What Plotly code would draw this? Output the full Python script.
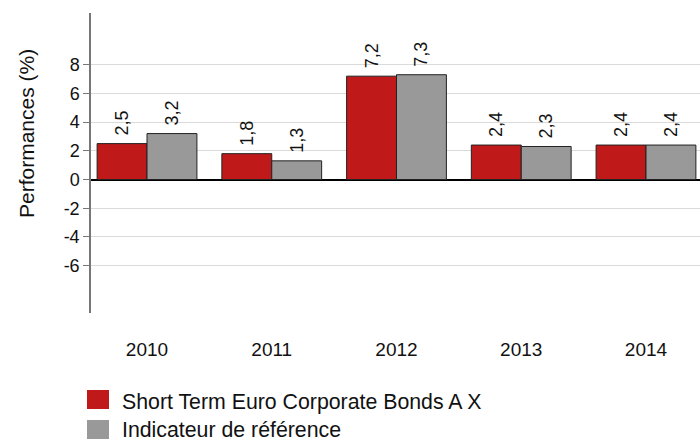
import plotly.graph_objects as go

years = ["2010", "2011", "2012", "2013", "2014"]
fund_name = "Short Term Euro Corporate Bonds A X"
bench_name = "Indicateur de référence"
fund_values = [2.5, 1.8, 7.2, 2.4, 2.4]
bench_values = [3.2, 1.3, 7.3, 2.3, 2.4]
y_ticks = [-6, -4, -2, 0, 2, 4, 6, 8]

RED = "#C0191A"
GRAY = "#999999"
FONT = "Liberation Sans, Arial, sans-serif"

fig = go.Figure()
for name, vals, col in [(fund_name, fund_values, RED), (bench_name, bench_values, GRAY)]:
    fig.add_trace(go.Bar(
        x=list(range(len(years))), y=vals, name=name,
        marker=dict(color=col, line=dict(color="#222222", width=1)),
        texttemplate="\u00a0%{y:.1f}", textposition="outside", textangle=-90,
        textfont=dict(size=18, color="#111111", family=FONT),
        cliponaxis=False, showlegend=False,
    ))

fig.update_layout(
    width=700, height=441,
    margin=dict(l=91, r=0, t=13, b=128),
    paper_bgcolor="white", plot_bgcolor="white",
    barmode="group", bargap=0.2, bargroupgap=0,
    separators=", ",
    font=dict(family=FONT, color="#111111"),
    xaxis=dict(
        range=[-0.449, 4.433], tickmode="array",
        tickvals=list(range(len(years))), ticktext=years,
        showgrid=False, showline=False, zeroline=False, ticks="",
        tickfont=dict(size=19, color="#111111"), ticklabelstandoff=23,
    ),
    yaxis=dict(
        range=[-9.3, 11.6], tickmode="array", tickvals=y_ticks,
        ticktext=[str(v) for v in y_ticks],
        showgrid=True, gridcolor="#dadada", gridwidth=1,
        zeroline=True, zerolinecolor="#000000", zerolinewidth=1.5,
        showline=True, linecolor="#777777", linewidth=1.5,
        ticks="outside", ticklen=6, tickcolor="#777777", tickwidth=1,
        tickfont=dict(size=18, color="#111111"),
    ),
)

fig.add_annotation(
    text="Performances (%)", textangle=-90, showarrow=False,
    xref="paper", yref="paper", x=(26 - 91) / 609, y=(313 - 134) / 300,
    xanchor="center", yanchor="middle", font=dict(size=21, color="#111111"),
)

legend_items = [(fund_name, RED, 390, 409, 402), (bench_name, GRAY, 420, 439, 430)]
for name, col, y0, y1, yc in legend_items:
    fig.add_shape(type="rect", xref="paper", yref="paper",
                  x0=(87 - 91) / 609, x1=(109 - 91) / 609,
                  y0=(313 - y0) / 300, y1=(313 - y1) / 300,
                  fillcolor=col, line=dict(width=0))
    fig.add_annotation(text=name, showarrow=False, xref="paper", yref="paper",
                       x=(121 - 91) / 609, y=(313 - yc) / 300,
                       xanchor="left", yanchor="middle", borderpad=0,
                       font=dict(size=21.3, color="#111111"))

fig.write_html(
    "out.html",
    config={"displayModeBar": False},
    post_script="document.body.style.margin='0';document.body.style.overflow='hidden';",
)
